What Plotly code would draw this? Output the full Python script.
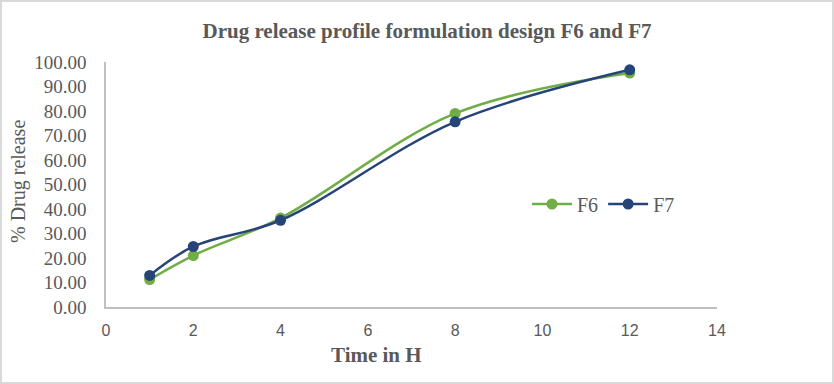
import plotly.graph_objects as go

time_h = [1, 2, 4, 8, 12]
f6 = [11.2, 21.0, 36.3, 79.0, 95.5]
f7 = [12.9, 24.7, 35.4, 75.6, 96.8]
x_ticks = [0, 2, 4, 6, 8, 10, 12, 14]
y_ticks = [0, 10, 20, 30, 40, 50, 60, 70, 80, 90, 100]

W, H = 834, 384
L, R, T, B = 106, 117, 62, 77
pw, ph = W - L - R, H - T - B

fig = go.Figure()
fig.add_trace(go.Scatter(x=time_h, y=f6, name="F6", mode="lines+markers",
                         line=dict(color="#70ad47", width=2.5, shape="spline", smoothing=1),
                         marker=dict(size=11, color="#70ad47")))
fig.add_trace(go.Scatter(x=time_h, y=f7, name="F7", mode="lines+markers",
                         line=dict(color="#264478", width=2.5, shape="spline", smoothing=1),
                         marker=dict(size=11, color="#264478")))

gray = "#595959"
fig.update_layout(
    width=W, height=H,
    margin=dict(l=L, r=R, t=T, b=B, autoexpand=False),
    paper_bgcolor="white", plot_bgcolor="white",
    title=dict(text="<b>Drug release profile formulation design F6 and F7</b>",
               x=427 / W, xanchor="center", y=1 - 31 / H, yanchor="middle",
               font=dict(family="Liberation Serif", size=21, color=gray)),
    xaxis=dict(range=[0, 14], tickvals=x_ticks, showgrid=False, zeroline=False,
               showline=True, linecolor="#bfbfbf", linewidth=1.5, ticks="",
               ticklabelstandoff=8,
               tickfont=dict(family="Liberation Sans Narrow, Liberation Sans", size=16, color=gray)),
    yaxis=dict(range=[0, 100], tickvals=y_ticks, tickformat=".2f", showgrid=False, zeroline=False,
               showline=True, linecolor="#bfbfbf", linewidth=1.5, ticks="",
               ticklabelstandoff=14,
               tickfont=dict(family="Liberation Serif", size=19, color=gray)),
    legend=dict(orientation="h", x=(527 - L) / pw, y=1 - (204 - T) / ph, xanchor="left", yanchor="middle",
                font=dict(family="Liberation Serif", size=20, color=gray), bgcolor="rgba(0,0,0,0)",
                itemwidth=40, tracegroupgap=0),
    showlegend=True,
    annotations=[
        dict(text="<b>Time in H</b>", xref="paper", yref="paper",
             x=(376 - L) / pw, y=-(355 - (T + ph)) / ph, showarrow=False,
             xanchor="center", yanchor="middle",
             font=dict(family="Liberation Serif", size=21, color=gray)),
        dict(text="% Drug release", xref="paper", yref="paper",
             x=-(L - 18) / pw, y=1 - (182 - T) / ph, showarrow=False, textangle=-90,
             xanchor="center", yanchor="middle",
             font=dict(family="Liberation Serif", size=20, color=gray)),
    ],
    shapes=[dict(type="rect", xref="paper", yref="paper",
                 x0=-(L - 1) / pw, x1=1 + (R - 1) / pw, y0=-(B - 1) / ph, y1=1 + (T - 1) / ph,
                 line=dict(color="#d9d9d9", width=2), fillcolor="rgba(0,0,0,0)", layer="below")],
)

fig.write_html("out.html", config={"displayModeBar": False},
               post_script="document.body.style.margin='0';document.body.style.overflow='hidden';")
